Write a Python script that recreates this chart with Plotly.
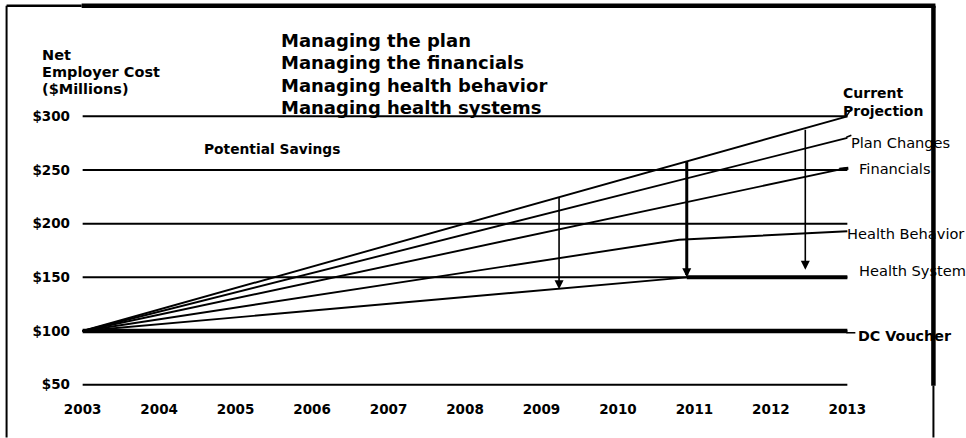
import plotly.graph_objects as go

# ---------------- data ----------------
years = [2003, 2004, 2005, 2006, 2007, 2008, 2009, 2010, 2011, 2012, 2013]
year_labels = [str(y) for y in years]

grid_vals = [50, 100, 150, 200, 250, 300]
grid_labels = ["$50", "$100", "$150", "$200", "$250", "$300"]

current_x = [2003, 2013]
current_y = [100, 300]
plan_x = [2003, 2013]
plan_y = [100, 280]
fin_x = [2003, 2013]
fin_y = [100, 252]
behav_x = [2003, 2010.8, 2013]
behav_y = [100, 185, 193]
system_x = [2003, 2010.9]
system_y = [100, 150]
system_flat_x = [2010.9, 2013]
system_flat_y = [150, 150]
voucher_x = [2003, 2013]
voucher_y = [100, 100]

arrow_x = [2009.23, 2010.9, 2012.45]
arrow_top = [226, 259, 289]
arrow_bottom = [139, 150, 157]

title_lines = ["Managing the plan", "Managing the financials",
               "Managing health behavior", "Managing health systems"]
ytitle_lines = ["Net", "Employer Cost", "($Millions)"]

# ---------------- geometry ----------------
W, H = 966, 438
XR = [2002.9, 2013.1]
YR = [45, 305]
pxx = 76.4
pxy = 269 / 250
L = 83 - (2003 - XR[0]) * pxx
R = W - (847 + (XR[1] - 2013) * pxx)
T = 116 - (YR[1] - 300) * pxy
B = H - (385 + (50 - YR[0]) * pxy)
PW = W - L - R
PH = H - T - B


def px(x):
    return (x - L) / PW


def py(y):
    return (T + PH - y) / PH


FONT = "DejaVu Sans"
fig = go.Figure()

# gridlines
for gv in grid_vals:
    fig.add_trace(go.Scatter(x=[years[0], years[-1]], y=[gv, gv], mode="lines",
                             line=dict(color="black", width=2), hoverinfo="skip",
                             showlegend=False))

thin = dict(color="black", width=1.9)
for xs, ys in [(current_x, current_y), (plan_x, plan_y), (fin_x, fin_y),
               (behav_x, behav_y), (system_x, system_y)]:
    fig.add_trace(go.Scatter(x=xs, y=ys, mode="lines", line=thin,
                             hoverinfo="skip", showlegend=False))

fig.add_trace(go.Scatter(x=system_flat_x, y=system_flat_y, mode="lines",
                         line=dict(color="black", width=4), hoverinfo="skip",
                         showlegend=False))
fig.add_trace(go.Scatter(x=voucher_x, y=voucher_y, mode="lines",
                         line=dict(color="black", width=4.5), hoverinfo="skip",
                         showlegend=False))

# arrows
for i, (xa, yt, yb) in enumerate(zip(arrow_x, arrow_top, arrow_bottom)):
    w = 3 if i == 1 else 1.6
    fig.add_annotation(x=xa, y=yb, ax=xa, ay=yt, xref="x", yref="y",
                       axref="x", ayref="y", text="", showarrow=True,
                       arrowhead=2, arrowwidth=w, arrowsize=1.8 / w,
                       arrowcolor="black")

# texts
for i, t in enumerate(title_lines):
    fig.add_annotation(text="<b>%s</b>" % t, x=px(279), y=py(40 + 22.3 * i),
                       xref="paper", yref="paper", xanchor="left", yanchor="middle",
                       showarrow=False, font=dict(family=FONT, size=18, color="black"))
for i, t in enumerate(ytitle_lines):
    fig.add_annotation(text="<b>%s</b>" % t, x=px(40), y=py(54 + 17.5 * i),
                       xref="paper", yref="paper", xanchor="left", yanchor="middle",
                       showarrow=False, font=dict(family=FONT, size=14.5, color="black"))

fig.add_annotation(text="<b>Potential Savings</b>", x=px(202), y=py(149),
                   xref="paper", yref="paper", xanchor="left", yanchor="middle",
                   showarrow=False, font=dict(family=FONT, size=13.8, color="black"))

labels = [
    ("<b>Current</b>", 841, 93, 14),
    ("<b>Projection</b>", 841, 111, 14),
    ("Plan Changes", 849, 142, 14.6),
    ("Financials", 857, 168, 14.6),
    ("Health Behavior", 845, 233, 14.6),
    ("Health System", 857, 271, 14.6),
    ("<b>DC Voucher</b>", 856, 336, 14.3),
]
for t, x0, y0, s in labels:
    fig.add_annotation(text=t, x=px(x0), y=py(y0), xref="paper", yref="paper",
                       xanchor="left", yanchor="middle", showarrow=False,
                       font=dict(family=FONT, size=s, color="black"))

# frame and small label leaders
frame = [
    (7, 5, 7, 438, 2),
    (7, 5, 82, 5, 2.5),
    (82, 5, 935, 5, 4.5),
    (933, 5, 933, 386, 4.5),
    (933, 386, 933, 438, 2),
    (846, 116, 850, 110, 1.5),
    (846, 137, 851, 135, 1.5),
    (839, 169, 848, 168, 3),
    (846, 333, 855, 333, 1.5),
]
for x0, y0, x1, y1, w in frame:
    fig.add_shape(type="line", xref="paper", yref="paper", x0=px(x0), y0=py(y0),
                  x1=px(x1), y1=py(y1), line=dict(color="black", width=w))

fig.update_layout(
    width=W, height=H,
    margin=dict(l=L, r=R, t=T, b=B, autoexpand=False),
    paper_bgcolor="white", plot_bgcolor="white",
    xaxis=dict(range=XR, tickvals=years, ticktext=["<b>%s</b>" % t for t in year_labels],
               showgrid=False, zeroline=False, showline=False, ticks="",
               ticklabelstandoff=9,
               tickfont=dict(family=FONT, size=13.5, color="black")),
    yaxis=dict(range=YR, tickvals=grid_vals, ticktext=["<b>%s</b>" % g for g in grid_labels],
               showgrid=False, zeroline=False, showline=False, ticks="",
               ticklabelstandoff=4,
               tickfont=dict(family=FONT, size=13.5, color="black")),
)

fig.write_html("out.html")
